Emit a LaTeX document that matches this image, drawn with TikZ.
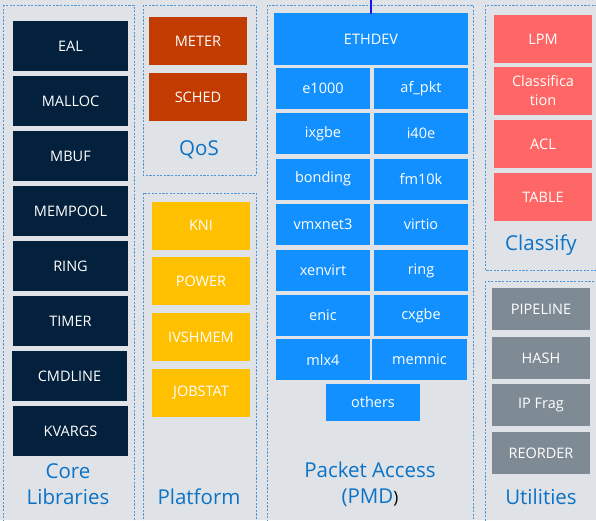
\documentclass[tikz,border=0pt]{standalone}
\usepackage{fontspec}
\setmainfont{Open Sans}
\begin{document}
\begin{tikzpicture}[x=1pt,y=-1pt,
  every node/.style={inner sep=0pt, outer sep=0pt},
  group/.style={draw=grpline, line width=0.9pt, dash pattern=on 2.2pt off 1.4pt},
  blk/.style={text=white, font=\fontsize{14.5}{18}\selectfont, align=center},
  corebox/.style={blk, fill=corecol, minimum width=115pt, minimum height=50pt},
  qosbox/.style={blk, fill=qoscol, minimum width=98pt, minimum height=48pt},
  platbox/.style={blk, fill=platcol, minimum width=98pt, minimum height=48pt},
  pmdbox/.style={blk, fill=pmdcol, minimum width=94pt, minimum height=41pt},
  clsbox/.style={blk, fill=clscol, minimum width=98pt, minimum height=48pt},
  utilbox/.style={blk, fill=utilcol, minimum width=98pt, minimum height=42pt},
  title/.style={text=titlecol, font=\fontsize{20.5}{26}\selectfont, align=center}
]
\definecolor{bgcol}{HTML}{DFE3E7}
\definecolor{grpline}{HTML}{4F97D8}
\definecolor{corecol}{HTML}{03203C}
\definecolor{qoscol}{HTML}{C23B00}
\definecolor{platcol}{HTML}{FFC000}
\definecolor{pmdcol}{HTML}{1290FF}
\definecolor{clscol}{HTML}{FF6666}
\definecolor{utilcol}{HTML}{7E8B94}
\definecolor{titlecol}{HTML}{0B72C6}
\definecolor{linkcol}{HTML}{1414F0}

\useasboundingbox (0,0) rectangle (596,520);
\clip (0,0) rectangle (596,520);
\fill[bgcol] (0,0) rectangle (596,520);

% group frames
\draw[group] (3,5) rectangle (134,530);
\draw[group] (143,5) rectangle (256,175);
\draw[group] (143,193) rectangle (256,530);
\draw[group] (267,5) rectangle (473,530);
\draw[group] (485,5) rectangle (602,270);
\draw[group] (485,281) rectangle (602,530);

% core libraries
\node[corebox] (eal)     at (70.5,46)  {EAL};
\node[corebox] (malloc)  at (70.5,101) {MALLOC};
\node[corebox] (mbuf)    at (70.5,156) {MBUF};
\node[corebox] (mempool) at (70.5,211) {MEMPOOL};
\node[corebox] (ring)    at (70.5,266) {RING};
\node[corebox] (timer)   at (70.5,321) {TIMER};
\node[corebox] (cmdline) at (69.5,376) {CMDLINE};
\node[corebox] (kvargs)  at (70.5,431) {KVARGS};
\node[title] (coretitle) at (68,484) {Core\\Libraries};

% QoS
\node[qosbox] (meter) at (198,41) {METER};
\node[qosbox] (sched) at (198,97) {SCHED};
\node[title] (qostitle) at (199,150) {QoS};

% platform
\node[platbox] (kni)     at (201,225.5) {KNI};
\node[platbox] (power)   at (201,281)   {POWER};
\node[platbox] (ivshmem) at (201,337)   {IVSHMEM};
\node[platbox] (jobstat) at (201,393)   {JOBSTAT};
\node[title] (plattitle) at (199,497) {Platform};

% packet access
\node[blk, fill=pmdcol, minimum width=194pt, minimum height=52pt] (ethdev) at (371,39) {ETHDEV};
\node[pmdbox] (e1000)   at (323,88.5)  {e1000};
\node[pmdbox] (afpkt)   at (421,88.5)  {af\_pkt};
\node[pmdbox] (ixgbe)   at (323,133.5) {ixgbe};
\node[pmdbox] (i40e)    at (421,133.5) {i40e};
\node[pmdbox] (bonding) at (323,179)   {bonding};
\node[pmdbox] (fm10k)   at (421,179)   {fm10k};
\node[pmdbox] (vmxnet)  at (323,224.5) {vmxnet3};
\node[pmdbox] (virtio)  at (421,224.5) {virtio};
\node[pmdbox] (xenvirt) at (323,270.5) {xenvirt};
\node[pmdbox] (pring)   at (421,270.5) {ring};
\node[pmdbox] (enic)    at (323,315.5) {enic};
\node[pmdbox] (cxgbe)   at (421,315.5) {cxgbe};
\node[pmdbox] (mlx)     at (323,359.5) {mlx4};
\node[pmdbox, minimum width=95pt] (memnic) at (419.5,359.5) {memnic};
\node[pmdbox, minimum height=37pt] (others) at (373,402.5) {others};
\node[title] (pmdtitle) at (370,484) {Packet Access\\(PMD{\color{black}\fontsize{17}{20}\selectfont)}};

% link into ETHDEV from above
\coordinate (linktop) at (371,0);
\draw[linkcol, line width=2pt] (linktop) -- ([yshift=-1pt]ethdev.north);

% classify
\node[clsbox] (lpm)   at (543,39)  {LPM};
\node[clsbox, font=\fontsize{14.5}{19}\selectfont] (classif) at (543,91) {Classifica\\tion};
\node[clsbox] (acl)   at (543,144) {ACL};
\node[clsbox] (table) at (543,197) {TABLE};
\node[title] (clstitle) at (541,245) {Classify};

% utilities
\node[utilbox] (pipeline) at (541,309) {PIPELINE};
\node[utilbox] (hash)     at (541,358) {HASH};
\node[utilbox] (ipfrag)   at (541,405) {IP Frag};
\node[utilbox] (reorder)  at (541,453) {REORDER};
\node[title] (utiltitle) at (541,497) {Utilities};
\end{tikzpicture}
\end{document}
